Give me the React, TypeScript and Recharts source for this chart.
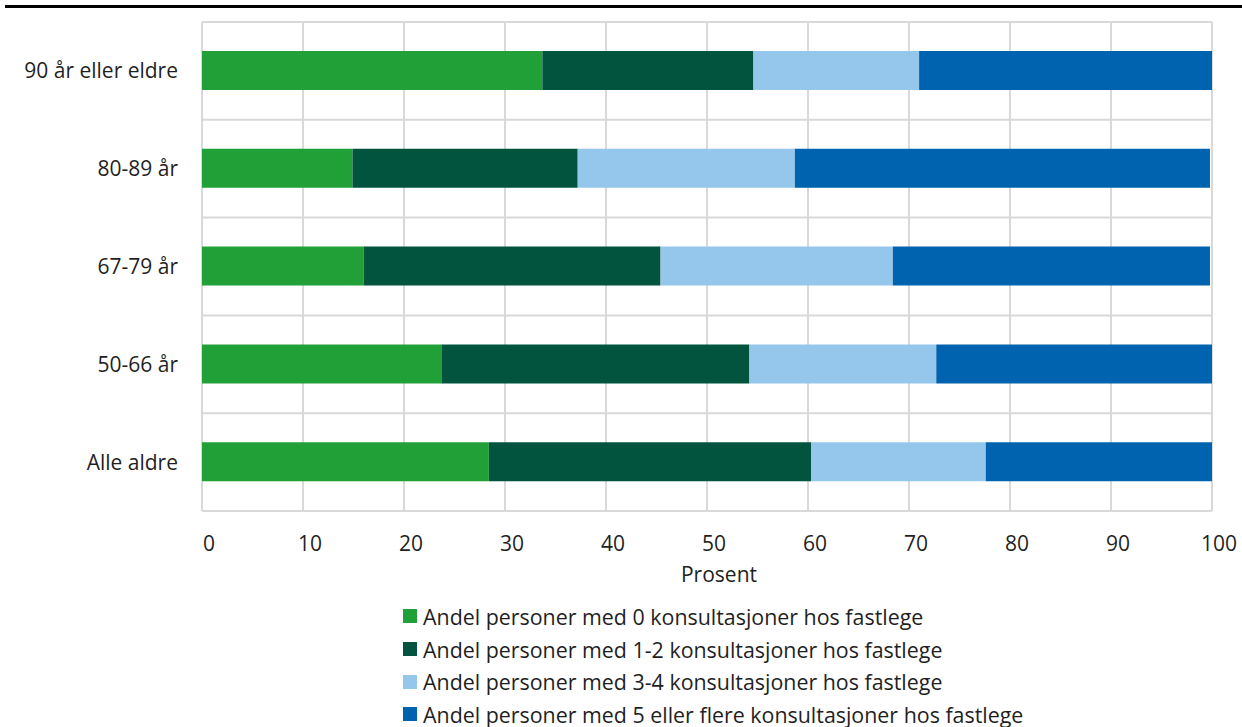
import React from 'react';
import {
  BarChart,
  Bar,
  XAxis,
  YAxis,
  CartesianGrid,
  Legend,
  Label
} from 'recharts';

// Age groups, top to bottom
const ageGroups = ['90 år eller eldre', '80-89 år', '67-79 år', '50-66 år', 'Alle aldre'];

// Share (%) of persons by number of GP consultations
const zeroConsult = [33.7, 14.9, 16.0, 23.7, 28.4];
const oneTwoConsult = [20.9, 22.3, 29.4, 30.5, 31.9];
const threeFourConsult = [16.4, 21.5, 23.0, 18.5, 17.3];
const fivePlusConsult = [29.0, 41.1, 31.4, 27.3, 22.4];

const xTicks = [0, 10, 20, 30, 40, 50, 60, 70, 80, 90, 100];

const seriesNames = [
  'Andel personer med 0 konsultasjoner hos fastlege',
  'Andel personer med 1-2 konsultasjoner hos fastlege',
  'Andel personer med 3-4 konsultasjoner hos fastlege',
  'Andel personer med 5 eller flere konsultasjoner hos fastlege'
];

const colors = ['#21a038', '#02543f', '#95c6eb', '#0063af'];

const FONT = '"Open Sans", "Noto Sans", sans-serif';
const TEXT = '#1f1f1f';
const FS = 21;

const data = ageGroups.map((group, i) => ({
  group,
  s0: zeroConsult[i],
  s1: oneTwoConsult[i],
  s2: threeFourConsult[i],
  s3: fivePlusConsult[i]
}));

const keys = ['s0', 's1', 's2', 's3'];

const LegendList = () => (
  <div style={{ fontFamily: FONT, fontSize: 21.4, color: TEXT }}>
    {seriesNames.map((name, i) => (
      <div key={name} style={{ display: 'flex', alignItems: 'center', height: 32.7, whiteSpace: 'nowrap' }}>
        <span style={{ display: 'inline-block', width: 14, height: 14, background: colors[i], marginRight: 6 }} />
        <span>{name}</span>
      </div>
    ))}
  </div>
);

export default function App() {
  return (
    <div style={{ position: 'relative', width: 1242, height: 727, background: '#fff' }}>
      <style>{'body{margin:0}'}</style>
      {/* top rule */}
      <div style={{ position: 'absolute', left: 5, top: 5, width: 1237, height: 3, background: '#000' }} />
      <BarChart
        width={1242}
        height={727}
        data={data}
        layout="vertical"
        margin={{ top: 22, right: 30, bottom: 160, left: 12 }}
        barSize={39}
      >
        <CartesianGrid
          stroke="#d9d9d9"
          strokeWidth={2}
          horizontalCoordinatesGenerator={({ offset }: any) =>
            [...ageGroups.map((_, i) => offset.top + (offset.height * i) / ageGroups.length), offset.top + offset.height]
          }
        />
        <XAxis
          type="number"
          domain={[0, 100]}
          ticks={xTicks}
          interval={0}
          axisLine={false}
          tickLine={false}
          tickSize={0}
          tickMargin={25}
          height={56}
          tick={{ fill: TEXT, fontSize: FS, fontFamily: FONT, dx: 7 }}
        >
          <Label
            value="Prosent"
            position="bottom"
            offset={0}
            dx={12}
            style={{ fill: TEXT, fontSize: FS, fontFamily: FONT }}
          />
        </XAxis>
        <YAxis
          type="category"
          dataKey="group"
          width={190}
          axisLine={false}
          tickLine={false}
          tickSize={0}
          tickMargin={24}
          tick={{ fill: TEXT, fontSize: FS, fontFamily: FONT }}
        />
        <Legend
          layout="vertical"
          align="center"
          verticalAlign="middle"
          content={() => <LegendList />}
          wrapperStyle={{ position: 'absolute', left: 403, top: 600, width: 'auto', height: 'auto' }}
        />
        {keys.map((k, i) => (
          <Bar
            key={k}
            dataKey={k}
            stackId="a"
            fill={colors[i]}
            name={seriesNames[i]}
            isAnimationActive={false}
          />
        ))}
      </BarChart>
    </div>
  );
}
